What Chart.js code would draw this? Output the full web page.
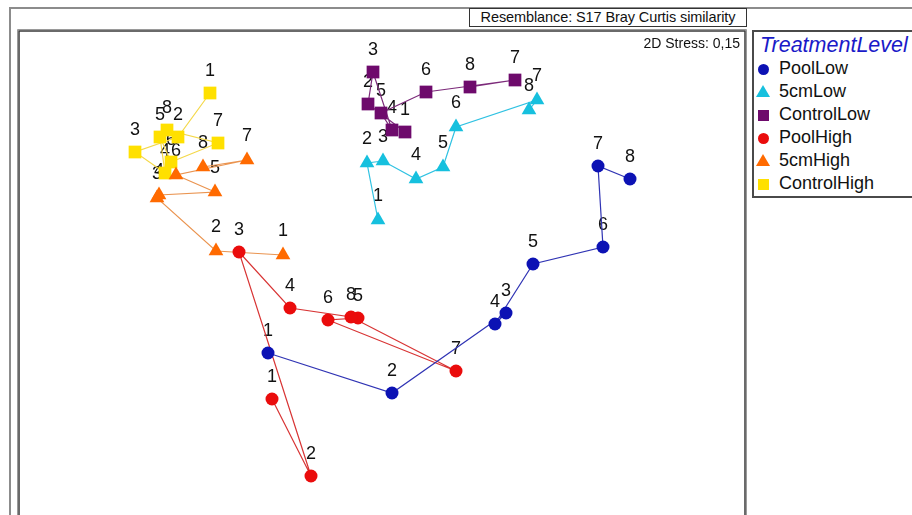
<!DOCTYPE html>
<html>
<head>
<meta charset="utf-8">
<script src="https://cdn.jsdelivr.net/npm/chart.js@4.4.1/dist/chart.umd.min.js"></script>
<style>
  html, body { margin: 0; padding: 0; background: #fff; overflow: hidden; }
  #wrap { position: relative; width: 912px; height: 515px; overflow: hidden;
          font-family: "Liberation Sans", Arial, sans-serif; }
  #outer { position: absolute; left: 9px; top: 7px; width: 960px; height: 560px;
           border-left: 2px solid #8c8c8c; border-top: 2px solid #8c8c8c; }
  #c { position: absolute; left: 0; top: 0; }
  #title { position: absolute; left: 469px; top: 8px; width: 276px; height: 17px;
           border: 1px solid #333; background: #fff; text-align: center;
           font-family: "Liberation Sans", Arial, sans-serif;
           font-size: 14.5px; line-height: 17px; color: #111; letter-spacing: -0.1px; }
  #stress { position: absolute; right: 172px; top: 35px;
            font-family: "Liberation Sans", Arial, sans-serif;
            font-size: 14px; color: #111; }
  #legend { position: absolute; left: 752px; top: 30px; width: 200px; height: 164px;
            border: 2px solid #4a4a4a; background: #fff; }
  #legend .head { position: absolute; left: 6px; top: 1px; font-style: italic;
                  font-size: 21.5px; color: #1a1ac8; white-space: nowrap; }
  #legend .row { position: absolute; left: 0; height: 22px; width: 200px; }
  #legend .row span { position: absolute; left: 25px; top: 0; font-size: 18px;
                      line-height: 22px; color: #111; white-space: nowrap; }
  #legend .mk { position: absolute; }
  .circle { width: 11px; height: 11px; border-radius: 50%; left: 4px; top: 7px; }
  .tri { width: 14px; height: 12px; left: 2px; top: 5px;
         clip-path: polygon(50% 0, 100% 100%, 0 100%); }
  .sq { width: 11px; height: 11px; left: 4px; top: 7px; }
</style>
</head>
<body>
<div id="wrap">
  <div id="outer"></div>
  <canvas id="c" width="912" height="515"></canvas>
  <div id="title">Resemblance: S17 Bray Curtis similarity</div>
  <div id="stress">2D Stress: 0,15</div>
  <div id="legend"><div class="head">TreatmentLevel</div></div>
</div>
<script>
// Sample (time step) labels written next to every point
const samples = ['1', '2', '3', '4', '5', '6', '7', '8'];

// nMDS coordinates [MDS1, MDS2] per treatment level, samples 1..8
const poolLow = [[-1.14, -0.80], [0.10, -1.20], [1.24, -0.40], [1.13, -0.51],
                 [1.51, 0.09], [2.21, 0.26], [2.16, 1.07], [2.48, 0.94]];
const cmLow5 = [[-0.04, 0.53], [-0.15, 1.10], [0.01, 1.12], [0.34, 0.94],
                [0.61, 1.06], [0.74, 1.46], [1.55, 1.73], [1.47, 1.63]];
const controlLow = [[0.23, 1.41], [-0.14, 1.69], [-0.09, 2.01], [0.10, 1.43],
                    [-0.01, 1.60], [0.44, 1.81], [1.33, 1.93], [0.88, 1.86]];
const poolHigh = [[-1.10, -1.26], [-0.71, -2.03], [-1.43, 0.21], [-0.92, -0.35],
                  [-0.24, -0.45], [-0.54, -0.47], [0.74, -0.98], [-0.31, -0.44]];
const cmHigh5 = [[-0.99, 0.18], [-1.66, 0.22], [-2.25, 0.75], [-2.23, 0.78],
                 [-1.67, 0.81], [-2.06, 0.98], [-1.35, 1.13], [-1.79, 1.06]];
const controlHigh = [[-1.72, 1.80], [-2.04, 1.36], [-2.47, 1.21], [-2.17, 1.00],
                     [-2.22, 1.36], [-2.11, 1.11], [-1.64, 1.30], [-2.15, 1.43]];

// Group names, in legend order
const groupNames = ['PoolLow', '5cmLow', 'ControlLow', 'PoolHigh', '5cmHigh', 'ControlHigh'];

const groups = [
  { name: groupNames[0], pts: poolLow,     marker: '#0c12b4', line: '#3034b4', shape: 'circle',   r: 6.5, css: 'circle' },
  { name: groupNames[1], pts: cmLow5,      marker: '#16c0de', line: '#30c2e2', shape: 'triangle', r: 8.5, css: 'tri' },
  { name: groupNames[2], pts: controlLow,  marker: '#6e0a6c', line: '#7c2a7a', shape: 'rect',     r: 9,   css: 'sq' },
  { name: groupNames[3], pts: poolHigh,    marker: '#ea0c0c', line: '#d83434', shape: 'circle',   r: 6.5, css: 'circle' },
  { name: groupNames[4], pts: cmHigh5,     marker: '#ff6a00', line: '#ea9450', shape: 'triangle', r: 8.5, css: 'tri' },
  { name: groupNames[5], pts: controlHigh, marker: '#ffe000', line: '#f4d84a', shape: 'rect',     r: 9,   css: 'sq' }
];

// Legend entries
const legend = document.getElementById('legend');
groups.forEach((g, i) => {
  const row = document.createElement('div');
  row.className = 'row';
  row.style.top = (25 + i * 23) + 'px';
  const mk = document.createElement('div');
  mk.className = 'mk ' + g.css;
  mk.style.background = g.marker;
  const tx = document.createElement('span');
  tx.textContent = g.name;
  row.appendChild(mk);
  row.appendChild(tx);
  legend.appendChild(row);
});

// Plot frame around the ordination panel
const framePlugin = {
  id: 'frame',
  beforeDraw(chart) {
    const { ctx, chartArea: a } = chart;
    ctx.save();
    ctx.strokeStyle = '#9a9a9a';
    ctx.lineWidth = 1;
    ctx.beginPath();
    ctx.moveTo(a.left - 1.5, a.bottom + 10);
    ctx.lineTo(a.left - 1.5, a.top - 1.5);
    ctx.lineTo(a.right + 1.5, a.top - 1.5);
    ctx.lineTo(a.right + 1.5, a.bottom + 10);
    ctx.stroke();
    ctx.strokeStyle = '#3a3a3a';
    ctx.lineWidth = 1.5;
    ctx.beginPath();
    ctx.moveTo(a.left, a.bottom + 10);
    ctx.lineTo(a.left, a.top);
    ctx.lineTo(a.right, a.top);
    ctx.lineTo(a.right, a.bottom + 10);
    ctx.stroke();
    ctx.restore();
  }
};

// Sample numbers above each point (drawn beneath the markers)
const labelPlugin = {
  id: 'sampleLabels',
  beforeDatasetsDraw(chart) {
    const ctx = chart.ctx;
    ctx.save();
    ctx.font = '18px "Liberation Sans", Arial, sans-serif';
    ctx.fillStyle = '#111';
    ctx.textAlign = 'center';
    ctx.textBaseline = 'middle';
    chart.data.datasets.forEach((ds, di) => {
      const meta = chart.getDatasetMeta(di);
      const off = groups[di].shape === 'triangle' ? 24 : 22;
      meta.data.forEach((el, i) => {
        ctx.fillText(samples[i], el.x, el.y - off);
      });
    });
    ctx.restore();
  }
};

new Chart(document.getElementById('c'), {
  type: 'scatter',
  data: {
    datasets: groups.map(g => ({
      label: g.name,
      data: g.pts.map(p => ({ x: p[0], y: p[1] })),
      showLine: true,
      borderColor: g.line,
      borderWidth: 1.2,
      pointStyle: g.shape,
      pointRadius: g.r,
      pointBackgroundColor: g.marker,
      pointBorderColor: g.marker,
      pointBorderWidth: 0,
      tension: 0
    }))
  },
  options: {
    responsive: false,
    animation: false,
    devicePixelRatio: 1,
    layout: { autoPadding: false, padding: { left: 19, top: 31, right: 167, bottom: 0 } },
    scales: {
      x: { type: 'linear', min: -3.63, max: 3.63, display: false },
      y: { type: 'linear', min: -2.42, max: 2.42, display: false }
    },
    plugins: { legend: { display: false }, tooltip: { enabled: false } }
  },
  plugins: [framePlugin, labelPlugin]
});
</script>
</body>
</html>
